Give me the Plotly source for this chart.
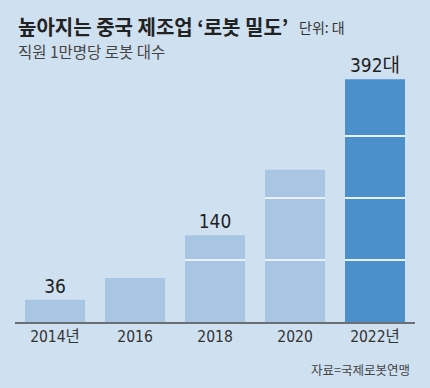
import plotly.graph_objects as go

# ---- data ----
years = ["2014년", "2016", "2018", "2020", "2022년"]
robots = [36, 71, 140, 246, 392]
value_labels = ["36", "", "140", "", "392대"]
grid_levels = [100, 200, 300]

title_text = "높아지는 중국 제조업 ‘로봇 밀도’"
unit_text = "단위: 대"
subtitle_text = "직원 1만명당 로봇 대수"
source_text = "자료=국제로봇연맹"

BG = "#cfe0f0"
LIGHT = "#a8c5e3"
DARK = "#4b8fcb"
NARROW = "Liberation Sans Narrow, DejaVu Sans Condensed, Roboto Condensed, Noto Sans CJK KR, sans-serif"
KR = "Noto Sans CJK KR, sans-serif"

colors = [DARK if i == len(years) - 1 else LIGHT for i in range(len(years))]

fig = go.Figure()
fig.add_trace(go.Bar(
    x=years, y=robots, width=0.75,
    marker=dict(color=colors, line=dict(width=0)),
    text=value_labels, textposition="outside", cliponaxis=False,
    textfont=dict(family=NARROW, size=19, color="#1f1f1f"),
    hoverinfo="skip",
))

# white division lines inside the bars
for lvl in grid_levels:
    xs = [y for y, v in zip(years, robots) if v > lvl]
    fig.add_trace(go.Bar(
        x=xs, y=[1.6] * len(xs), base=[lvl] * len(xs), width=0.75,
        marker=dict(color="#e8f0f8", line=dict(width=0)),
        hoverinfo="skip",
    ))

W, H = 430, 388
ML, MR, MT, MB = 15, 15, 62, 66
pw = W - ML - MR
ph = H - MT - MB


def px(x):
    return (x - ML) / pw


def py(y):
    return (H - MB - y) / ph


fig.update_layout(
    width=W, height=H,
    margin=dict(l=ML, r=MR, t=MT, b=MB),
    paper_bgcolor=BG, plot_bgcolor=BG,
    barmode="overlay", showlegend=False,
    xaxis=dict(
        showline=True, linecolor="#6b6e72", linewidth=1.5,
        showgrid=False, ticks="", zeroline=False,
        tickfont=dict(family=NARROW, size=15.5, color="#333"),
        range=[-0.5, 4.5],
    ),
    yaxis=dict(range=[0, 420], showgrid=False, zeroline=False,
               showticklabels=False, showline=False),
    annotations=[
        dict(text="<b>" + title_text + "</b>", xref="paper", yref="paper",
             x=px(16), y=py(26), xanchor="left", yanchor="middle",
             showarrow=False, font=dict(family=KR, size=20, color="#222")),
        dict(text=unit_text, xref="paper", yref="paper",
             x=px(297), y=py(27), xanchor="left", yanchor="middle",
             showarrow=False, font=dict(family=KR, size=14, color="#333")),
        dict(text=subtitle_text, xref="paper", yref="paper",
             x=px(16), y=py(51), xanchor="left", yanchor="middle",
             showarrow=False, font=dict(family=KR, size=15.5, color="#444")),
        dict(text=source_text, xref="paper", yref="paper",
             x=px(412), y=py(369), xanchor="right", yanchor="middle",
             showarrow=False, font=dict(family=KR, size=12.5, color="#444")),
    ],
)

fig.write_html(
    "out.html",
    config={"displayModeBar": False},
    post_script="document.body.style.margin='0';"
                "document.body.style.background='" + BG + "';",
)
